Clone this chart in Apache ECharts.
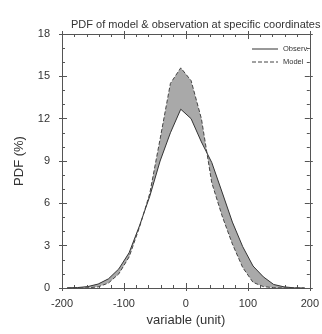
<!DOCTYPE html>
<html>
<head>
<meta charset="utf-8">
<script src="https://cdn.jsdelivr.net/npm/echarts@6/dist/echarts.min.js"></script>
<style>
html,body{margin:0;padding:0;background:#fff;}
#chart{width:322px;height:334px;}
</style>
</head>
<body>
<div id="chart"></div>
<script>
// Bin centres (unit)
var xs = [-191.67, -175, -158.33, -141.67, -125, -108.33, -91.67, -75, -58.33, -41.67, -25, -8.33,
          8.33, 25, 41.67, 58.33, 75, 91.67, 108.33, 125, 141.67, 158.33, 175, 191.67];
// PDF (%) of observation
var obs = [0.01, 0.03, 0.1, 0.28, 0.65, 1.35, 2.5, 4.4, 6.5, 9.0, 11.0, 12.67,
           12.0, 10.35, 8.9, 6.8, 4.67, 2.93, 1.56, 0.79, 0.25, 0.08, 0.01, 0];
// PDF (%) of model
var model = [0, 0, 0.01, 0.08, 0.35, 1.0, 2.2, 4.3, 6.7, 10.56, 14.5, 15.6,
             14.7, 12.0, 7.47, 5.12, 3.12, 1.45, 0.4, 0.1, 0.02, 0, 0, 0];
var xTicks = [-200, -100, 0, 100, 200];
var yTicks = [0, 3, 6, 9, 12, 15, 18];
var legendNames = ['Observ.', 'Model'];

var titleText = 'PDF of model & observation at specific coordinates';
var xName = 'variable (unit)';
var yName = 'PDF (%)';

var chart = echarts.init(document.getElementById('chart'), null, {renderer: 'canvas'});
var font = 'Liberation Sans, Arial, Helvetica, sans-serif';
var axisCol = '#555';
var txtCol = '#333';
var obsCol = '#333';
var modCol = '#444';
var dash = [4, 2];

function pairs(ys) { return xs.map(function (x, i) { return [x, ys[i]]; }); }

var baseX = {
  type: 'value', min: xTicks[0], max: xTicks[xTicks.length - 1], interval: 100,
  axisLine: {show: true, onZero: false, lineStyle: {color: axisCol, width: 1}},
  splitLine: {show: false}
};
var baseY = {
  type: 'value', min: yTicks[0], max: yTicks[yTicks.length - 1], interval: 3,
  axisLine: {show: true, onZero: false, lineStyle: {color: axisCol, width: 1}},
  splitLine: {show: false}
};

function ax(base, extra) { return Object.assign({}, base, extra); }

var option = {
  backgroundColor: '#fff',
  animation: false,
  title: {
    text: titleText, left: 66, top: 14,
    textStyle: {fontFamily: font, fontSize: 11, fontWeight: 'normal', color: txtCol}
  },
  grid: {left: 62, right: 6, top: 34, bottom: 46, containLabel: false},
  graphic: [
    {type: 'line', shape: {x1: 252, y1: 49, x2: 278, y2: 49},
     style: {stroke: obsCol, lineWidth: 1}},
    {type: 'text', x: 283, y: 49,
     style: {text: legendNames[0], font: '7.5px ' + font, fill: txtCol, textVerticalAlign: 'middle', verticalAlign: 'middle'}},
    {type: 'line', shape: {x1: 252, y1: 62, x2: 278, y2: 62},
     style: {stroke: modCol, lineWidth: 1, lineDash: dash}},
    {type: 'text', x: 283, y: 62,
     style: {text: legendNames[1], font: '7.5px ' + font, fill: txtCol, textVerticalAlign: 'middle', verticalAlign: 'middle'}}
  ],
  xAxis: [
    ax(baseX, {
      position: 'bottom',
      name: xName, nameLocation: 'middle', nameGap: 24,
      nameTextStyle: {fontFamily: font, fontSize: 13, color: txtCol},
      axisLabel: {fontFamily: font, fontSize: 11, color: txtCol, margin: 10},
      axisTick: {show: true, inside: true, length: 5, lineStyle: {color: axisCol}},
      minorTick: {show: true, splitNumber: 5, length: 3, lineStyle: {color: axisCol}}
    }),
    ax(baseX, {
      position: 'bottom', axisLabel: {show: false},
      axisTick: {show: true, inside: false, length: 3, lineStyle: {color: axisCol}}
    }),
    ax(baseX, {
      position: 'top', axisLabel: {show: false},
      axisTick: {show: true, inside: true, length: 5, lineStyle: {color: axisCol}},
      minorTick: {show: true, splitNumber: 5, length: 3, lineStyle: {color: axisCol}}
    }),
    ax(baseX, {
      position: 'top', axisLabel: {show: false},
      axisTick: {show: true, inside: false, length: 3, lineStyle: {color: axisCol}}
    })
  ],
  yAxis: [
    ax(baseY, {
      position: 'left',
      name: yName, nameLocation: 'middle', nameGap: 36, nameRotate: 90,
      nameTextStyle: {fontFamily: font, fontSize: 13, color: txtCol},
      axisLabel: {fontFamily: font, fontSize: 11, color: txtCol, margin: 12},
      axisTick: {show: true, inside: true, length: 5, lineStyle: {color: axisCol}},
      minorTick: {show: true, splitNumber: 3, length: 3, lineStyle: {color: axisCol}}
    }),
    ax(baseY, {
      position: 'left', axisLabel: {show: false},
      axisTick: {show: true, inside: false, length: 3, lineStyle: {color: axisCol}}
    }),
    ax(baseY, {
      position: 'right', axisLabel: {show: false},
      axisTick: {show: true, inside: true, length: 5, lineStyle: {color: axisCol}},
      minorTick: {show: true, splitNumber: 3, length: 3, lineStyle: {color: axisCol}}
    }),
    ax(baseY, {
      position: 'right', axisLabel: {show: false},
      axisTick: {show: true, inside: false, length: 3, lineStyle: {color: axisCol}}
    })
  ],
  series: [
    {
      type: 'custom', name: 'band', xAxisIndex: 0, yAxisIndex: 0, silent: true,
      data: [[0, 0]], z: 1,
      renderItem: function (params, api) {
        var pts = [];
        for (var i = 0; i < xs.length; i++) pts.push(api.coord([xs[i], obs[i]]));
        for (var j = xs.length - 1; j >= 0; j--) pts.push(api.coord([xs[j], model[j]]));
        return {type: 'polygon', shape: {points: pts}, style: {fill: '#a9a9a9', stroke: null}};
      }
    },
    {
      type: 'line', name: legendNames[0], data: pairs(obs), symbol: 'none', z: 3,
      lineStyle: {color: obsCol, width: 1, type: 'solid'},
      itemStyle: {color: obsCol}
    },
    {
      type: 'line', name: legendNames[1], data: pairs(model), symbol: 'none', z: 3,
      lineStyle: {color: modCol, width: 1, type: dash},
      itemStyle: {color: modCol}
    }
  ]
};
chart.setOption(option);
</script>
</body>
</html>
